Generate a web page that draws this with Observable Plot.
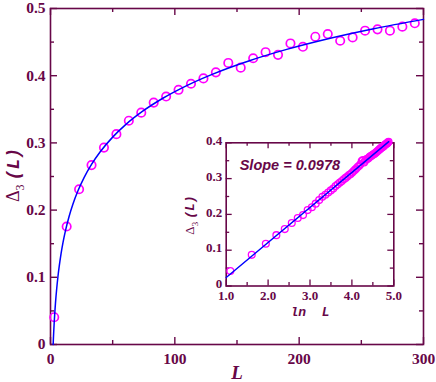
<!DOCTYPE html>
<html><head><meta charset="utf-8">
<script src="https://cdn.jsdelivr.net/npm/d3@7"></script>
<script src="https://cdn.jsdelivr.net/npm/@observablehq/plot@0.6"></script>
<style>
body{margin:0;background:#fff;}
#wrap{position:relative;width:436px;height:382px;overflow:hidden;}
#wrap svg{position:absolute;overflow:visible;}
</style></head><body><div id="wrap"></div>
<script>
// ---- data ----
const mainL = [3,13,23,33,43,53,63,73,83,93,103,113,123,133,143,153,163,173,183,193,203,213,223,233,243,253,263,273,283,293];
const mainD = [0.0406,0.1756,0.231,0.267,0.293,0.313,0.333,0.345,0.360,0.369,0.379,0.388,0.396,0.405,0.419,0.412,0.426,0.435,0.431,0.448,0.443,0.458,0.462,0.452,0.457,0.467,0.469,0.467,0.473,0.478];

const insetL = [3,5,7,9,11,13,15,17,19,21,23,25,27,29,31,33,35,37,39,41,43,45,47,49,51,53,55,57,59,61,63,65,67,69,71,73,75,77,79,81,83,85,87,89,91,93,95,97,99,101,103,105,107,109,111,113,115,117,119,121,123,125,127,129,131];
const insetD = [0.042,0.087,0.118,0.142,0.159,0.176,0.190,0.198,0.212,0.220,0.230,0.240,0.249,0.255,0.261,0.267,0.272,0.279,0.284,0.289,0.293,0.298,0.302,0.306,0.310,0.313,0.317,0.321,0.325,0.329,0.333,0.336,0.340,0.349,0.352,0.345,0.350,0.354,0.355,0.357,0.360,0.362,0.364,0.366,0.367,0.369,0.371,0.373,0.375,0.377,0.379,0.381,0.383,0.385,0.387,0.388,0.389,0.391,0.393,0.395,0.396,0.398,0.399,0.401,0.403];

// fitted law  Δ3 = intercept + slope * ln L
const fitSlope = 0.0978;
const fitIntercept = -0.074;
const curveL = [2.13,2.2,2.35,2.6,3,3.5,4,5,6,7,8.5,10,12,15,18,22,27,33,40,50,60,75,90,110,130,160,190,220,260,300];
const insetFitLnL = [1.0, 4.88];

const slopeText = "Slope = 0.0978";

const mainXTicks = [0,100,200,300], mainXMinor = [50,150,250];
const mainYTicks = [0,0.1,0.2,0.3,0.4,0.5], mainYMinor = [0.05,0.15,0.25,0.35,0.45];
const insXTicks = [1,2,3,4,5], insXMinor = [1.5,2.5,3.5,4.5];
const insYTicks = [0,0.1,0.2,0.3,0.4], insYMinor = [0.05,0.15,0.25,0.35];

// ---- style ----
const maroon = "#670748";
const serif = "'Liberation Serif','Times New Roman',serif";
const mono = "'Liberation Mono','DejaVu Sans Mono',monospace";
const sans = "'Liberation Sans',Arial,sans-serif";

function edgeTicks(xs, ys, iw, ih, len, sw) {
  const st = {stroke: maroon, strokeWidth: sw};
  return [
    Plot.tickX(xs, {x: d => d, insetTop: ih - len, ...st}),
    Plot.tickX(xs, {x: d => d, insetBottom: ih - len, ...st}),
    Plot.tickY(ys, {y: d => d, insetRight: iw - len, ...st}),
    Plot.tickY(ys, {y: d => d, insetLeft: iw - len, ...st})
  ];
}

const yFmt = d => d === 0 ? "0" : d.toFixed(1);

// ---- main chart ----
const W = 436, H = 382;
const mM = {l: 50, r: 13, t: 8, b: 38};
const mIW = W - mM.l - mM.r, mIH = H - mM.t - mM.b;
const mainData = mainL.map((L, i) => ({L, d: mainD[i]}));
const curve = curveL.map(L => ({L, d: fitIntercept + fitSlope * Math.log(L)}));

const main = Plot.plot({
  width: W, height: H,
  marginLeft: mM.l, marginRight: mM.r, marginTop: mM.t, marginBottom: mM.b,
  x: {domain: [0, 300]},
  y: {domain: [0, 0.5]},
  style: {background: "transparent", overflow: "visible"},
  marks: [
    Plot.frame({stroke: maroon, strokeWidth: 1.6}),
    ...edgeTicks(mainXTicks, mainYTicks, mIW, mIH, 7, 1.4),
    ...edgeTicks(mainXMinor, mainYMinor, mIW, mIH, 4, 1.4),
    Plot.axisX(mainXTicks, {tickSize: 0, tickPadding: 8, label: null, tickFormat: d => String(d),
      fill: maroon, fontSize: 15.5, fontWeight: "bold", fontFamily: serif}),
    Plot.axisY(mainYTicks, {tickSize: 0, tickPadding: 5, label: null, tickFormat: yFmt,
      fill: maroon, fontSize: 15.5, fontWeight: "bold", fontFamily: serif}),
    Plot.dot(mainData, {x: "L", y: "d", r: 4.2, stroke: "#ff00ff", strokeWidth: 1.7, fill: "none"}),
    Plot.line(curve, {x: "L", y: "d", stroke: "#0000ff", strokeWidth: 1.5, curve: "monotone-x"})
  ]
});
main.style.left = "0px"; main.style.top = "0px";
document.getElementById("wrap").appendChild(main);

// axis titles (main)
const ms = d3.select(main);
ms.append("text")
  .attr("x", 237).attr("y", 379).attr("text-anchor", "middle")
  .attr("font-family", serif).attr("font-weight", "bold").attr("font-style", "italic")
  .attr("font-size", 19).attr("fill", maroon).text("L");
const ylab = ms.append("text")
  .attr("transform", "translate(19,175) rotate(-90)").attr("text-anchor", "middle")
  .attr("fill", maroon).attr("font-weight", "bold").attr("font-size", 18);
ylab.append("tspan").attr("font-family", serif).attr("font-weight", "normal").text("Δ");
ylab.append("tspan").attr("font-family", serif).attr("font-weight", "normal").attr("font-size", 12).attr("dy", 5).text("3");
ylab.append("tspan").attr("font-family", mono).attr("font-style", "italic").attr("dy", -5).attr("dx", 4).text("(L)");

// ---- inset ----
const IW = 250, IH = 200, IX = 180, IY = 130;
const iM = {l: 45.7, r: 36.7, t: 12.3, b: 44.5};
const iIW = IW - iM.l - iM.r, iIH = IH - iM.t - iM.b;
const insetData = insetL.map((L, i) => ({x: Math.log(L), d: insetD[i]}));
const insetFit = insetFitLnL.map(x => ({x, d: fitIntercept + fitSlope * x}));

const inset = Plot.plot({
  width: IW, height: IH,
  marginLeft: iM.l, marginRight: iM.r, marginTop: iM.t, marginBottom: iM.b,
  x: {domain: [1, 5]},
  y: {domain: [0, 0.4]},
  style: {background: "transparent", overflow: "visible"},
  marks: [
    Plot.frame({fill: "white", stroke: maroon, strokeWidth: 1.6}),
    ...edgeTicks(insXTicks, insYTicks, iIW, iIH, 6, 1.3),
    ...edgeTicks(insXMinor, insYMinor, iIW, iIH, 3.5, 1.3),
    Plot.axisX(insXTicks, {tickSize: 0, tickPadding: 5, label: null, tickFormat: d => d.toFixed(1),
      fill: maroon, fontSize: 13, fontWeight: "bold", fontFamily: serif}),
    Plot.axisY(insYTicks, {tickSize: 0, tickPadding: 4, label: null, tickFormat: yFmt,
      fill: maroon, fontSize: 13, fontWeight: "bold", fontFamily: serif, dy: -2}),
    Plot.dot(insetData, {x: "x", y: "d", r: 3.4, stroke: "#ff00ff", strokeWidth: 1.3, fill: "none"}),
    Plot.line(insetFit, {x: "x", y: "d", stroke: "#0000ff", strokeWidth: 1.4}),
    Plot.text([slopeText], {text: d => d, frameAnchor: "top-left", dx: 13.5, dy: 17, lineAnchor: "top",
      fill: maroon, fontSize: 14.5, fontWeight: "bold", fontStyle: "italic", fontFamily: sans})
  ]
});
inset.style.left = IX + "px"; inset.style.top = IY + "px";
document.getElementById("wrap").appendChild(inset);

const is = d3.select(inset);
is.append("text")
  .attr("x", 310 - IX).attr("y", 316 - IY).attr("text-anchor", "middle")
  .attr("font-family", mono).attr("font-weight", "bold").attr("font-style", "italic")
  .attr("font-size", 13).attr("fill", maroon).text("ln  L");
const iylab = is.append("text")
  .attr("transform", `translate(${194 - IX},${215 - IY}) rotate(-90)`).attr("text-anchor", "middle")
  .attr("fill", maroon).attr("font-weight", "bold").attr("font-size", 13);
iylab.append("tspan").attr("font-family", serif).attr("font-weight", "normal").text("Δ");
iylab.append("tspan").attr("font-family", serif).attr("font-weight", "normal").attr("font-size", 9).attr("dy", 3.5).text("3");
iylab.append("tspan").attr("font-family", mono).attr("font-style", "italic").attr("dy", -3.5).attr("dx", 3).text("(L)");
</script></body></html>
